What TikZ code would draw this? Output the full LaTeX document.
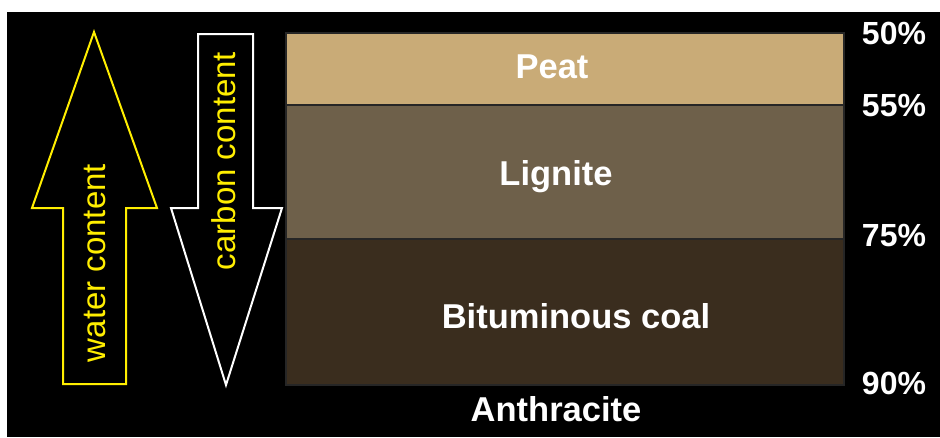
\documentclass[tikz,border=0pt]{standalone}
\usepackage{fontspec}
\setmainfont{Liberation Sans}
\definecolor{peatc}{HTML}{C9AB77}
\definecolor{lignc}{HTML}{6E604A}
\definecolor{bitc}{HTML}{3A2D1E}
\definecolor{ylw}{HTML}{FFEE00}
\begin{document}
\begin{tikzpicture}[x=1pt,y=-1pt,
  band/.style={draw=black!85, line width=1.5pt},
  coallabel/.style={text=white, font=\fontsize{34.5}{40}\selectfont\bfseries, inner sep=0pt},
  pct/.style={text=white, font=\fontsize{32}{38}\selectfont\bfseries, inner sep=0pt},
  arrowtext/.style={text=ylw, font=\fontsize{33}{38}\selectfont, rotate=90, inner sep=0pt}]
\useasboundingbox (0,0) rectangle (940,437);
\fill[white] (0,0) rectangle (940,437);
\fill[black] (7,12) rectangle (940,437);
% bands
\filldraw[band, fill=peatc] (286,33) rectangle (844,105);
\filldraw[band, fill=lignc] (286,105) rectangle (844,239);
\filldraw[band, fill=bitc] (286,239) rectangle (844,385);
% arrows
\draw[ylw, line width=2pt, line join=miter] (94,32) -- (157,208) -- (126,208) -- (126,384) -- (63,384) -- (63,208) -- (32,208) -- cycle;
\draw[white, line width=2pt, line join=miter] (198,34) -- (253,34) -- (253,208) -- (282,208) -- (226,385) -- (171,208) -- (198,208) -- cycle;
\node[arrowtext] (water) at (95,263) {water content};
\node[arrowtext] (carbon) at (224,161) {carbon content};
% labels
\node[coallabel] (peat) at (552,67) {Peat};
\node[coallabel, anchor=base] (lignite) at (556,185) {Lignite};
\node[coallabel] (bit) at (576,316) {Bituminous coal};
\node[coallabel] (anth) at (556,409) {Anthracite};
\node[pct] (p50) at (894,33) {50\%};
\node[pct] (p55) at (894,106) {55\%};
\node[pct] (p75) at (894,236) {75\%};
\node[pct] (p90) at (894,383) {90\%};
\end{tikzpicture}
\end{document}
